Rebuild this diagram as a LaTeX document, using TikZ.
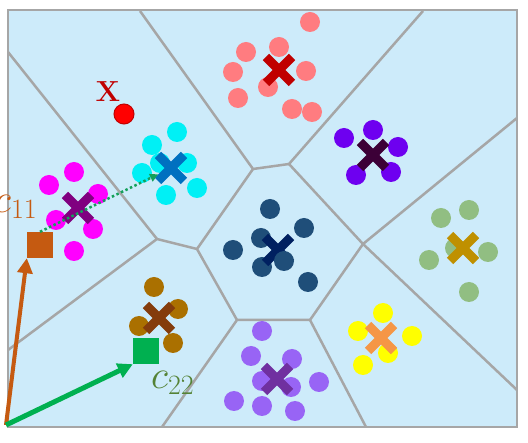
\documentclass[tikz,border=0pt]{standalone}
\usepackage{fix-cm}
\usepackage{tikz}
\usetikzlibrary{arrows.meta,shapes.misc,positioning}
\usepackage{xcolor}
\definecolor{bgBlue}{RGB}{205,235,250}
\definecolor{lineGray}{RGB}{166,166,166}
\definecolor{ptPink}{RGB}{255,124,128}
\definecolor{ptCyan}{RGB}{0,240,245}
\definecolor{ptMagenta}{RGB}{255,0,255}
\definecolor{ptViolet}{RGB}{110,0,240}
\definecolor{ptNavy}{RGB}{31,78,121}
\definecolor{ptSage}{RGB}{145,190,130}
\definecolor{ptBrown}{RGB}{170,112,0}
\definecolor{ptLavender}{RGB}{152,100,245}
\definecolor{ptYellow}{RGB}{255,255,0}
\definecolor{ptRed}{RGB}{255,0,0}
\definecolor{cRed}{RGB}{192,0,0}
\definecolor{cBlue}{RGB}{0,112,192}
\definecolor{cPurple}{RGB}{128,0,128}
\definecolor{cDark}{RGB}{60,0,55}
\definecolor{cNavy}{RGB}{0,32,96}
\definecolor{cGold}{RGB}{191,144,0}
\definecolor{cBrown}{RGB}{132,60,12}
\definecolor{cViolet}{RGB}{112,48,160}
\definecolor{cOrange}{RGB}{245,150,70}
\definecolor{vecOrange}{RGB}{197,90,17}
\definecolor{vecGreen}{RGB}{0,176,80}
\definecolor{dotGreen}{RGB}{20,160,90}
\definecolor{lblGreen}{RGB}{84,130,53}

\begin{document}
\begin{tikzpicture}[x=1pt,y=-1pt,
  cell/.style={draw=lineGray,line width=2.5pt},
  cent/.style={cross out,draw=#1,line width=9pt,minimum size=17pt,inner sep=0pt},
  ctr/.style={rectangle,fill=#1,minimum size=26pt,inner sep=0pt},
  vec/.style={draw=#1,line width=4.5pt,-{Triangle[length=15pt,width=15pt]}},
  lbl/.style={text=#1,font=\fontsize{40}{48}\selectfont,inner sep=0pt,anchor=base west}]
  \useasboundingbox (0,0) rectangle (528,443);
  % Frame
  \draw[draw=lineGray,line width=2pt,fill=bgBlue] (8,10) rectangle (517,427);
  % Voronoi cells
  \coordinate (v1) at (253,169);
  \coordinate (v2) at (289,164);
  \coordinate (v3) at (363,244);
  \coordinate (v4) at (310,320);
  \coordinate (v5) at (237,320);
  \coordinate (v6) at (197,249);
  \coordinate (v7) at (157,239);
  \draw[cell] (140,11) -- (v1) -- (v2) -- (423,11);
  \draw[cell] (v2) -- (v3) -- (517,118);
  \draw[cell] (v3) -- (517,390);
  \draw[cell] (v3) -- (v4) -- (366,427);
  \draw[cell] (v4) -- (v5) -- (162,427);
  \draw[cell] (v5) -- (v6) -- (v1);
  \draw[cell] (v6) -- (v7) -- (8,350);
  \draw[cell] (v7) -- (8,52);
  % Cluster points
  \foreach \p in {(310,22),(246,52),(279,47),(233,72),(306,71),(268,87),(238,98),(292,109),(312,112)}
    \fill[ptPink] \p circle[radius=10pt];
  \foreach \p in {(177,132),(152,145),(187,163),(160,163),(142,173),(166,195),(197,188)}
    \fill[ptCyan] \p circle[radius=10pt];
  \foreach \p in {(74,172),(49,185),(98,194),(56,220),(93,229),(74,251)}
    \fill[ptMagenta] \p circle[radius=10pt];
  \foreach \p in {(344,138),(373,130),(398,147),(356,175),(391,172)}
    \fill[ptViolet] \p circle[radius=10pt];
  \foreach \p in {(270,209),(304,228),(261,238),(233,250),(262,267),(308,282)}
    \fill[ptNavy] \p circle[radius=10pt];
  \foreach \p in {(441,218),(469,210),(455,248),(488,252),(429,260),(469,292)}
    \fill[ptSage] \p circle[radius=10pt];
  \foreach \p in {(154,287),(178,309),(139,326),(173,343)}
    \fill[ptBrown] \p circle[radius=10pt];
  \foreach \p in {(262,331),(251,356),(292,359),(262,381),(291,387),(319,382),(234,401),(262,406),(295,411)}
    \fill[ptLavender] \p circle[radius=10pt];
  \foreach \p in {(383,313),(358,331),(412,336),(388,353),(363,365)}
    \fill[ptYellow] \p circle[radius=10pt];
  % Centroids
  \node[cent=cRed] (k1) at (279,70) {};
  \node[cent=cBlue] (k2) at (171,168) {};
  \node[cent=cPurple] (k3) at (78,208) {};
  \node[cent=cDark] (k4) at (373,155) {};
  \node[cent=cNavy] (k5) at (278,250) {};
  \fill[ptNavy] (284,261) circle[radius=10pt];
  \node[cent=cGold] (k6) at (463,248) {};
  \node[cent=cBrown] (k7) at (159,318) {};
  \node[cent=cViolet] (k8) at (277,379) {};
  \node[cent=cOrange] (k9) at (381,338) {};
  % Query point
  \fill[ptRed,draw=cRed,line width=1pt] (124,114) circle[radius=10pt];
  \node[text=cRed,font=\fontsize{29}{34}\selectfont\bfseries,inner sep=0pt,anchor=base] (lx) at (108,102) {X};
  % Codewords and vectors
  \coordinate (O) at (6,425);
  \node[ctr=vecOrange] (c11) at (40,245) {};
  \node[ctr=vecGreen] (c22) at (146,351) {};
  \draw[vec=vecOrange,line width=4pt] (O) -- (c11.south west);
  \draw[vec=vecGreen,line width=5pt] (O) -- (c22.south west);
  \draw[draw=dotGreen,line width=2.5pt,dash pattern=on 2.5pt off 2.5pt,-{Triangle[length=8pt,width=8pt]}] (c11.north) -- (k2);
  \node[lbl=vecOrange] (l11) at (-6,213) {$c_{11}$};
  \node[lbl=lblGreen] (l22) at (151,389) {$c_{22}$};
\end{tikzpicture}
\end{document}
